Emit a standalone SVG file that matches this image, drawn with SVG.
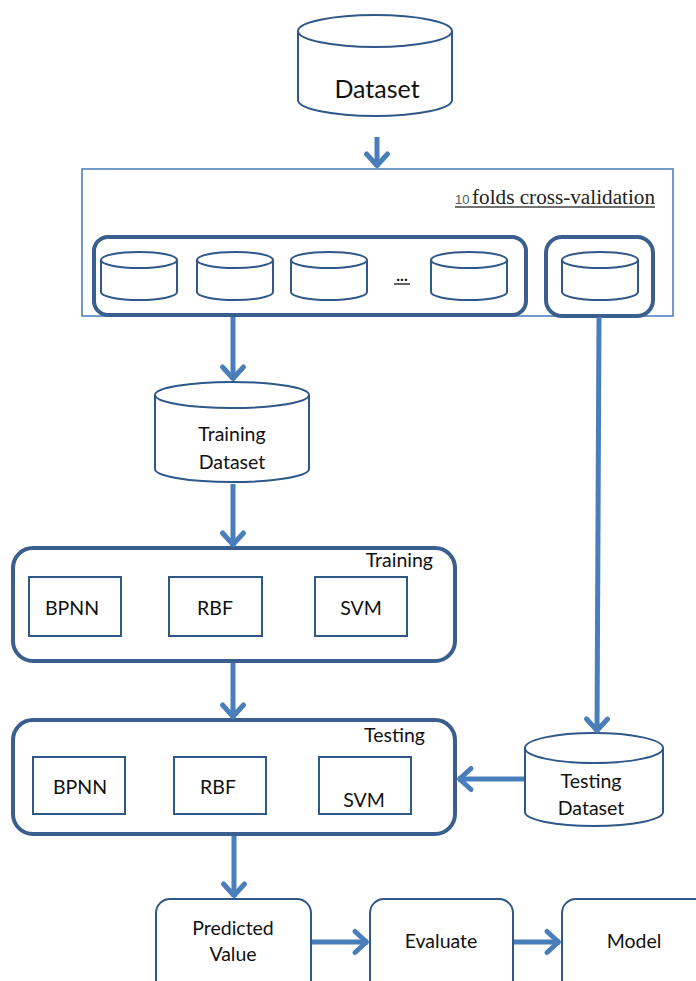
<svg xmlns="http://www.w3.org/2000/svg" width="696" height="981" viewBox="0 0 696 981">
<style>
.shape{fill:#fff;stroke:#2f5889;stroke-width:2}
.grp{fill:none;stroke:#3a5f8e;stroke-width:4}
.frame{fill:#fff;stroke:#4f81bd;stroke-width:1.6}
.lbl{font-family:Lato,"Liberation Sans",sans-serif;fill:#111;text-anchor:middle;font-size:19.5px}
.conn{fill:none;stroke:#4a7ebb;stroke-width:5}
</style>
<defs>
<marker id="ah" markerUnits="userSpaceOnUse" viewBox="-16 -14 20 28" refX="0" refY="0" markerWidth="20" markerHeight="28" orient="auto" overflow="visible">
<path d="M-13,-10.5 L-1.5,0 L-13,10.5" fill="none" stroke="#4a7ebb" stroke-width="5" stroke-linecap="round" stroke-linejoin="round"/>
</marker>
</defs>
<rect width="696" height="981" fill="#fff"/>

<g id="dataset">
<path class="shape" d="M298,31 V100 A77,16 0 0 0 452,100 V31"/>
<ellipse class="shape" cx="375" cy="31" rx="77" ry="16"/>
<text class="lbl" x="377" y="98" style="font-size:25px">Dataset</text>
</g>

<g id="cv">
<rect class="frame" x="82" y="169" width="591" height="147"/>
<text x="455" y="204" font-family="'Liberation Sans',sans-serif" font-size="13" fill="#555">10</text>
<text x="472" y="204" font-family="'Liberation Serif',serif" font-size="20" fill="#222" textLength="183" lengthAdjust="spacingAndGlyphs">folds cross-validation</text>
<line x1="455" y1="207" x2="655" y2="207" stroke="#444" stroke-width="1.3"/>
</g>

<g id="train-folds">
<rect class="grp" x="94" y="237" width="432" height="78" rx="14"/>
<path class="shape" d="M101,260 V292 A38,8 0 0 0 177,292 V260"/>
<ellipse class="shape" cx="139" cy="260" rx="38" ry="8"/>
<path class="shape" d="M197,260 V292 A38,8 0 0 0 273,292 V260"/>
<ellipse class="shape" cx="235" cy="260" rx="38" ry="8"/>
<path class="shape" d="M291,260 V292 A38,8 0 0 0 367,292 V260"/>
<ellipse class="shape" cx="329" cy="260" rx="38" ry="8"/>
<path class="shape" d="M431,260 V292 A38,8 0 0 0 507,292 V260"/>
<ellipse class="shape" cx="469" cy="260" rx="38" ry="8"/>
<text class="lbl" x="402" y="281" style="font-size:16px;font-weight:bold">...</text>
<line x1="394" y1="284" x2="410" y2="284" stroke="#111" stroke-width="1.3"/>
</g>

<g id="test-fold">
<rect class="grp" x="546" y="237" width="107" height="79" rx="16"/>
<path class="shape" d="M562,260 V292 A38,8 0 0 0 638,292 V260"/>
<ellipse class="shape" cx="600" cy="260" rx="38" ry="8"/>
</g>

<g id="training-dataset">
<path class="shape" d="M155,395 V469 A77,13 0 0 0 309,469 V395"/>
<ellipse class="shape" cx="232" cy="395" rx="77" ry="13"/>
<text class="lbl" x="232" y="441">Training</text>
<text class="lbl" x="232" y="469">Dataset</text>
</g>

<g id="training">
<rect class="grp" x="13" y="548" width="442" height="113" rx="20"/>
<text class="lbl" x="433" y="567" style="text-anchor:end">Training</text>
<rect class="shape" x="29" y="577" width="92" height="59"/>
<text class="lbl" x="72" y="615">BPNN</text>
<rect class="shape" x="169" y="577" width="93" height="59"/>
<text class="lbl" x="215" y="615">RBF</text>
<rect class="shape" x="315" y="577" width="92" height="59"/>
<text class="lbl" x="361" y="615">SVM</text>
</g>

<g id="testing">
<rect class="grp" x="13" y="720" width="442" height="114" rx="20"/>
<text class="lbl" x="425" y="742" style="text-anchor:end">Testing</text>
<rect class="shape" x="33" y="757" width="92" height="57"/>
<text class="lbl" x="80" y="794">BPNN</text>
<rect class="shape" x="174" y="757" width="92" height="57"/>
<text class="lbl" x="218" y="794">RBF</text>
<rect class="shape" x="319" y="757" width="92" height="57"/>
<text class="lbl" x="364" y="807">SVM</text>
</g>

<g id="testing-dataset">
<path class="shape" d="M525,748 V812 A69,14 0 0 0 663,812 V748"/>
<ellipse class="shape" cx="594" cy="748" rx="69" ry="15"/>
<text class="lbl" x="591" y="788">Testing</text>
<text class="lbl" x="591" y="815">Dataset</text>
</g>

<g id="predicted">
<rect class="shape" x="156" y="899" width="155" height="110" rx="14"/>
<text class="lbl" x="233" y="935">Predicted</text>
<text class="lbl" x="233" y="961">Value</text>
</g>
<g id="evaluate">
<rect class="shape" x="370" y="899" width="143" height="110" rx="14"/>
<text class="lbl" x="441" y="948">Evaluate</text>
</g>
<g id="model">
<rect class="shape" x="562" y="899" width="150" height="110" rx="14"/>
<text class="lbl" x="634" y="948">Model</text>
</g>

<g id="connectors">
<line class="conn" x1="377" y1="137" x2="377" y2="167" marker-end="url(#ah)"/>
<line class="conn" x1="233" y1="317" x2="233" y2="380" marker-end="url(#ah)"/>
<line class="conn" x1="599" y1="317" x2="597" y2="732" marker-end="url(#ah)"/>
<line class="conn" x1="233" y1="484" x2="233" y2="546" marker-end="url(#ah)"/>
<line class="conn" x1="233" y1="663" x2="233" y2="718" marker-end="url(#ah)"/>
<line class="conn" x1="524" y1="779" x2="458" y2="779" marker-end="url(#ah)"/>
<line class="conn" x1="234" y1="836" x2="234" y2="897" marker-end="url(#ah)"/>
<line class="conn" x1="312" y1="942" x2="368" y2="942" marker-end="url(#ah)"/>
<line class="conn" x1="514" y1="942" x2="560" y2="942" marker-end="url(#ah)"/>
</g>
</svg>
